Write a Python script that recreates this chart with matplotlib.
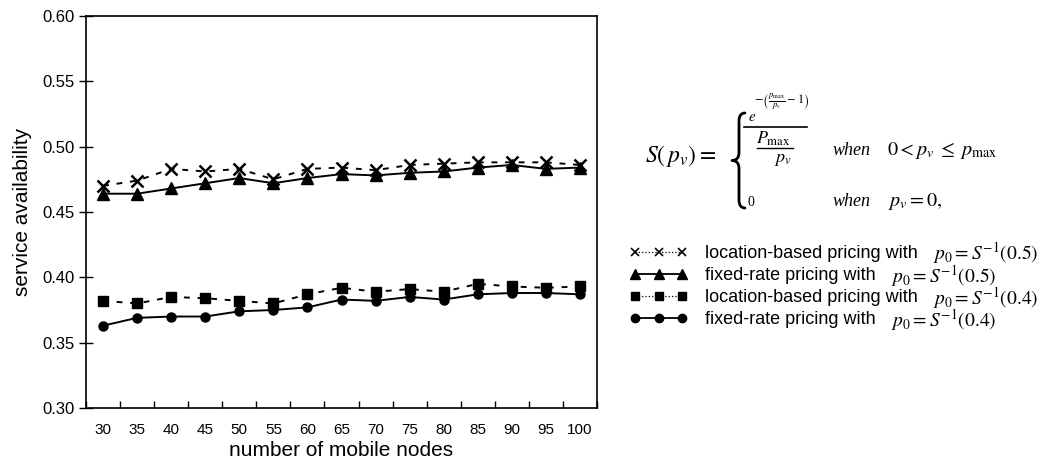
import matplotlib
matplotlib.use("Agg")
import matplotlib.pyplot as plt
from matplotlib.lines import Line2D
from matplotlib.path import Path
from matplotlib.patches import PathPatch

plt.rcParams['font.family'] = ['Liberation Sans', 'DejaVu Sans']
plt.rcParams['mathtext.fontset'] = 'stix'

nodes = ["30", "35", "40", "45", "50", "55", "60", "65", "70", "75", "80", "85", "90", "95", "100"]

loc_05 = [0.470, 0.474, 0.483, 0.481, 0.483, 0.475, 0.483, 0.484, 0.482, 0.486, 0.487, 0.488, 0.488, 0.488, 0.486]
fix_05 = [0.464, 0.464, 0.468, 0.472, 0.476, 0.472, 0.476, 0.479, 0.478, 0.480, 0.481, 0.484, 0.486, 0.483, 0.484]
loc_04 = [0.382, 0.380, 0.385, 0.384, 0.382, 0.380, 0.387, 0.392, 0.389, 0.391, 0.389, 0.395, 0.393, 0.392, 0.393]
fix_04 = [0.363, 0.369, 0.370, 0.370, 0.374, 0.375, 0.377, 0.383, 0.382, 0.385, 0.383, 0.387, 0.388, 0.388, 0.387]

labels = [
    "location-based pricing with",
    "fixed-rate pricing with",
    "location-based pricing with",
    "fixed-rate pricing with",
]
label_math = [
    r"$p_0 = S^{-1}(0.5)$",
    r"$p_0 = S^{-1}(0.5)$",
    r"$p_0 = S^{-1}(0.4)$",
    r"$p_0 = S^{-1}(0.4)$",
]

W, H = 1058, 466
fig = plt.figure(figsize=(W / 100, H / 100), dpi=100)


def fx(x):
    return x / W


def fy(y):
    return 1 - y / H


ax = fig.add_axes([fx(86), fy(408), fx(597) - fx(86), fy(16) - fy(408)])
xs = list(range(len(nodes)))

ax.plot(xs, loc_05, color='black', lw=1.4, dashes=(3, 4), marker='x', ms=8, mew=1.8)
ax.plot(xs, fix_05, color='black', lw=1.4, marker='^', ms=8)
ax.plot(xs, loc_04, color='black', lw=1.4, dashes=(3, 4), marker='s', ms=6.5)
ax.plot(xs, fix_04, color='black', lw=1.4, marker='o', ms=6.5)

ax.set_xlim(-0.5, len(nodes) - 0.5)
ax.set_ylim(0.30, 0.60)
ax.set_xticks(xs)
ax.set_xticklabels(nodes)
ax.set_xticks([i - 0.5 for i in range(len(nodes) + 1)], minor=True)
ax.tick_params(axis='x', which='major', length=0, pad=11, labelsize=11)
ax.tick_params(axis='x', which='minor', direction='in', length=5, width=1)
ax.set_yticks([0.30, 0.35, 0.40, 0.45, 0.50, 0.55, 0.60])
ax.set_yticklabels(["%.2f" % v for v in ax.get_yticks()])
ax.tick_params(axis='y', direction='inout', length=10, width=1, labelsize=12, pad=3)
for s in ax.spines.values():
    s.set_linewidth(1.2)
ax.set_xlabel("number of mobile nodes", fontsize=15, labelpad=3)
ax.set_ylabel("service availability", fontsize=15, labelpad=8)

# formula S(p_v)
fig.text(fx(645), fy(156), r"$S(\,p_v) =$", fontsize=17, ha='left', va='center')

# curly brace
bx, tip, top, bot = 739, 732, 113, 208
mid = (top + bot) / 2
pts = [(bx + 6, top), (bx, top), (bx, top + 8),
       (bx, mid - 8), (bx, mid), (tip, mid),
       (bx, mid), (bx, mid + 8),
       (bx, bot - 8), (bx, bot), (bx + 6, bot)]
codes = [Path.MOVETO, Path.CURVE3, Path.CURVE3,
         Path.LINETO, Path.CURVE3, Path.CURVE3,
         Path.CURVE3, Path.CURVE3,
         Path.LINETO, Path.CURVE3, Path.CURVE3]
brace = Path([(fx(a), fy(b)) for a, b in pts], codes)
fig.add_artist(PathPatch(brace, transform=fig.transFigure, fill=False, lw=2.0,
                         edgecolor='black', capstyle='round', joinstyle='round'))

fig.text(fx(748), fy(117), r"$e$", fontsize=11, ha='left', va='center')
fig.text(fx(782), fy(102), r"$-\left(\frac{p_{\max}}{p_v}-1\right)$", fontsize=9, ha='center', va='center')
fig.add_artist(Line2D([fx(744), fx(807)], [fy(127), fy(127)], color='black', lw=1.2))
fig.text(fx(773), fy(139), r"$P_{\max}$", fontsize=13, ha='center', va='center')
fig.add_artist(Line2D([fx(757), fx(793)], [fy(148), fy(148)], color='black', lw=1.0))
fig.text(fx(783), fy(160), r"$p_v$", fontsize=13, ha='center', va='center')
fig.text(fx(833), fy(150), "when", fontsize=13, family='Liberation Serif', style='italic', ha='left', va='center')
fig.text(fx(887), fy(150), r"$0 < p_v \;\leq\; p_{\max}$", fontsize=14.5, ha='left', va='center')
fig.text(fx(747), fy(202), "0", fontsize=10, family='Liberation Serif', ha='left', va='center')
fig.text(fx(833), fy(202), "when", fontsize=13, family='Liberation Serif', style='italic', ha='left', va='center')
fig.text(fx(888), fy(202), r"$p_v = 0,$", fontsize=14.5, ha='left', va='center')

handles = [
    Line2D([], [], color='black', lw=0.9, ls=':', marker='x', ms=6, mew=1.2),
    Line2D([], [], color='black', lw=1.3, marker='^', ms=7),
    Line2D([], [], color='black', lw=0.9, ls=':', marker='s', ms=6),
    Line2D([], [], color='black', lw=1.3, marker='o', ms=6),
]
leg = fig.legend(handles, labels, loc='upper left', bbox_to_anchor=(fx(630), fy(245)),
                 frameon=False, fontsize=13, numpoints=3, handlelength=3.2,
                 handletextpad=0.95, labelspacing=0.28, borderpad=0, borderaxespad=0)

fig.canvas.draw()
renderer = fig.canvas.get_renderer()
for t, m in zip(leg.get_texts(), label_math):
    bb = t.get_window_extent(renderer)
    cy = (bb.y0 + bb.y1) / 2
    fig.text((bb.x1 + 15) / fig.bbox.width, cy / fig.bbox.height, m,
             fontsize=14, ha='left', va='center')

fig.savefig("out.png", dpi=100)
